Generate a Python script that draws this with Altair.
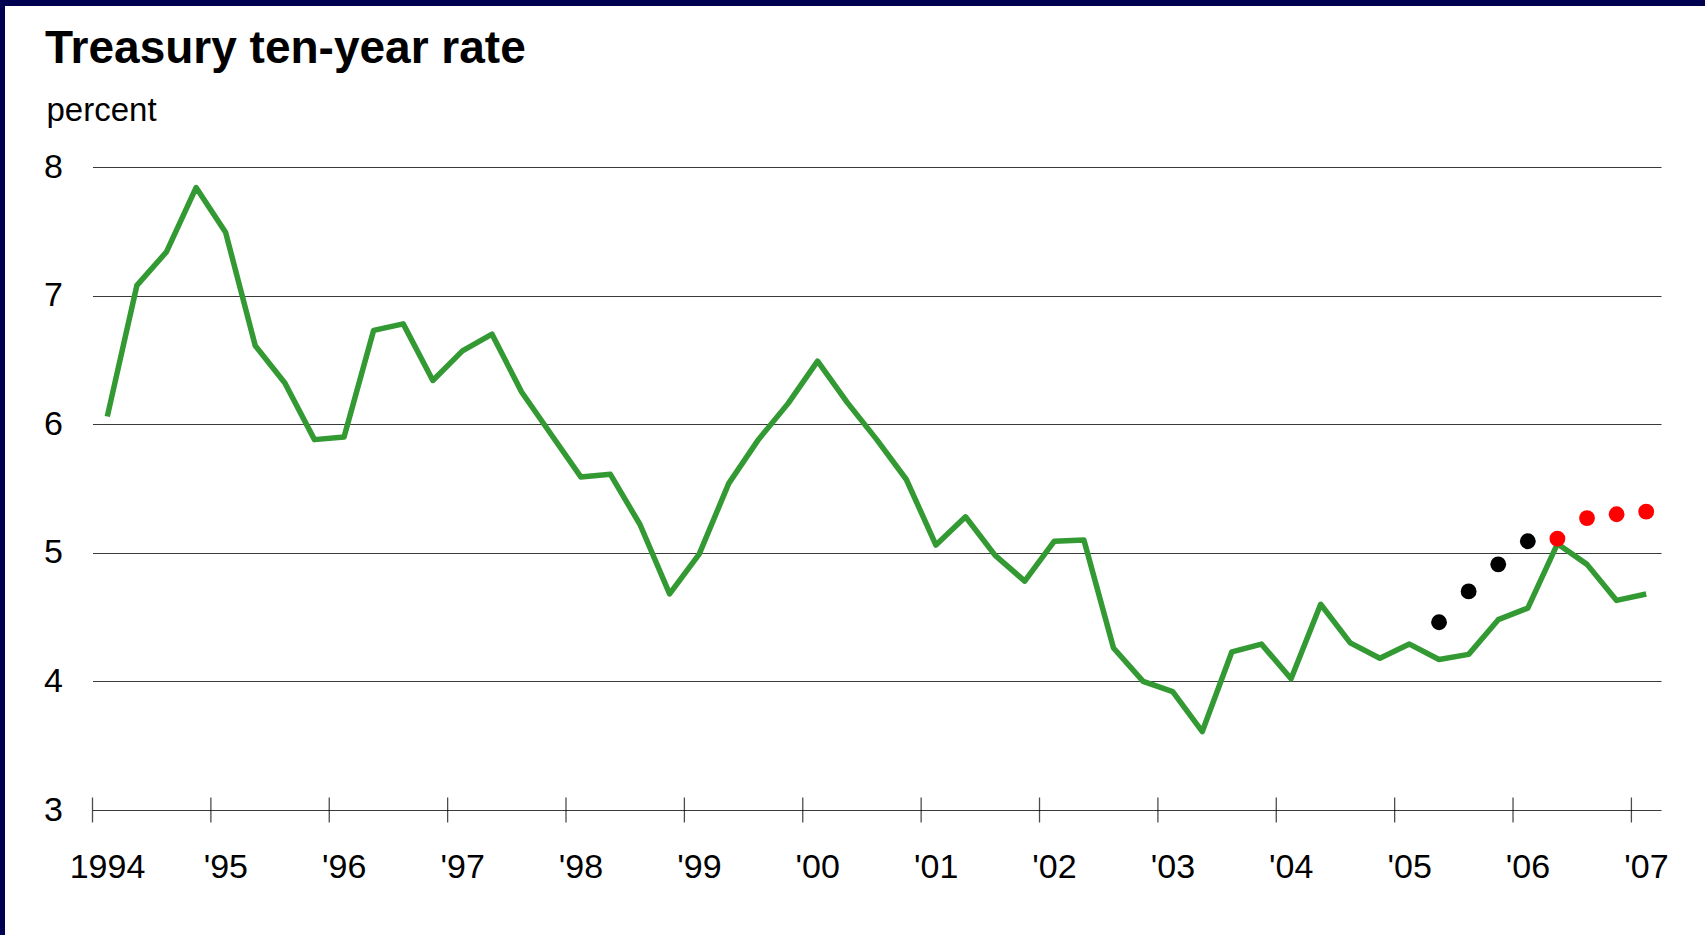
import json
import altair as alt
import pandas as pd

# ---- data (quarterly averages) ----
quarters = [
    "1994Q1", "1994Q2", "1994Q3", "1994Q4", "1995Q1", "1995Q2", "1995Q3", "1995Q4",
    "1996Q1", "1996Q2", "1996Q3", "1996Q4", "1997Q1", "1997Q2", "1997Q3", "1997Q4",
    "1998Q1", "1998Q2", "1998Q3", "1998Q4", "1999Q1", "1999Q2", "1999Q3", "1999Q4",
    "2000Q1", "2000Q2", "2000Q3", "2000Q4", "2001Q1", "2001Q2", "2001Q3", "2001Q4",
    "2002Q1", "2002Q2", "2002Q3", "2002Q4", "2003Q1", "2003Q2", "2003Q3", "2003Q4",
    "2004Q1", "2004Q2", "2004Q3", "2004Q4", "2005Q1", "2005Q2", "2005Q3", "2005Q4",
    "2006Q1", "2006Q2", "2006Q3", "2006Q4", "2007Q1",
]
rate = [
    6.06, 7.08, 7.34, 7.84, 7.49, 6.61, 6.32, 5.88,
    5.90, 6.73, 6.78, 6.34, 6.57, 6.70, 6.25, 5.92,
    5.59, 5.61, 5.22, 4.68, 4.99, 5.54, 5.88, 6.16,
    6.49, 6.17, 5.88, 5.57, 5.06, 5.28, 4.98, 4.78,
    5.09, 5.10, 4.26, 4.00, 3.92, 3.61, 4.23, 4.29,
    4.02, 4.60, 4.30, 4.18, 4.29, 4.17, 4.21, 4.48,
    4.57, 5.07, 4.91, 4.63, 4.68,
]
black_quarters = ["2005Q2", "2005Q3", "2005Q4", "2006Q1"]
black_values = [4.46, 4.70, 4.91, 5.09]
red_quarters = ["2006Q2", "2006Q3", "2006Q4", "2007Q1"]
red_values = [5.11, 5.27, 5.30, 5.32]

tick_years = [1994, 1995, 1996, 1997, 1998, 1999, 2000,
              2001, 2002, 2003, 2004, 2005, 2006, 2007]
tick_labels = ["1994", "'95", "'96", "'97", "'98", "'99", "'00",
               "'01", "'02", "'03", "'04", "'05", "'06", "'07"]
y_ticks = [3, 4, 5, 6, 7, 8]

title_text = "Treasury ten-year rate"
unit_text = "percent"


def qpos(q):
    return int(q[:4]) + (int(q[-1]) - 0.5) / 4


line_df = pd.DataFrame({"quarter": quarters, "x": [qpos(q) for q in quarters], "rate": rate})
black_df = pd.DataFrame({"quarter": black_quarters, "x": [qpos(q) for q in black_quarters], "rate": black_values})
red_df = pd.DataFrame({"quarter": red_quarters, "x": [qpos(q) for q in red_quarters], "rate": red_values})
tick_df = pd.DataFrame({"year": tick_years})

FONT = "Liberation Sans"
W, H = 1568.5, 643
PAD_L, PAD_T, PAD_R, PAD_B = 92.5, 167, 44, 125
NAVY = "#000050"

label_expr = json.dumps(tick_labels) + "[datum.value - 1994]"

x_scale = alt.Scale(domain=[1994, 2007.25], nice=False, zero=False)
y_scale = alt.Scale(domain=[3, 8], nice=False, zero=False)

x_axis = alt.Axis(values=tick_years, labelExpr=label_expr, grid=False, domain=False,
                  ticks=False, labelOffset=14.5, labelPadding=40, labelFontSize=34,
                  labelFont=FONT, labelColor="black", labelOverlap=False,
                  labelFlush=False, labelBound=False, title=None)
y_axis = alt.Axis(values=y_ticks, format="d", grid=True, gridColor="#3a3a3a", gridWidth=1.2,
                  domain=False, ticks=False, labelFontSize=34, labelFont=FONT,
                  labelColor="black", labelPadding=30, labelFlush=False,
                  title=unit_text, titleAngle=0, titleX=-46.5, titleY=-47,
                  titleAlign="left", titleBaseline="alphabetic", titleFontSize=33,
                  titleFont=FONT, titleFontWeight="normal", titleColor="black")

line = alt.Chart(line_df).mark_line(color="#339933", strokeWidth=5.5, strokeJoin="round").encode(
    x=alt.X("x:Q", scale=x_scale, axis=x_axis),
    y=alt.Y("rate:Q", scale=y_scale, axis=y_axis),
)
black_pts = alt.Chart(black_df).mark_circle(size=250, opacity=1, color="black").encode(
    x="x:Q", y="rate:Q")
red_pts = alt.Chart(red_df).mark_circle(size=250, opacity=1, color="#ff0000").encode(
    x="x:Q", y="rate:Q")
ticks = alt.Chart(tick_df).mark_tick(orient="vertical", color="black", thickness=1.3,
                                     size=25).encode(x="year:Q", y=alt.datum(3))

single = alt.Data(values=[{}])
title = alt.Chart(single).mark_text(
    text=title_text, font=FONT, fontSize=46, fontWeight="bold", color="black",
    align="left", baseline="alphabetic").encode(
    x=alt.value(-47.5), y=alt.value(-104))
top_band = alt.Chart(single).mark_rect(color=NAVY).encode(
    x=alt.value(-PAD_L), x2=alt.value(W + PAD_R), y=alt.value(-PAD_T), y2=alt.value(-PAD_T + 6))
left_band = alt.Chart(single).mark_rect(color=NAVY).encode(
    x=alt.value(-PAD_L), x2=alt.value(-PAD_L + 5), y=alt.value(-PAD_T), y2=alt.value(H + PAD_B))

chart = alt.layer(line, black_pts, red_pts, ticks, title, top_band, left_band).properties(
    width=W, height=H,
    autosize=alt.AutoSizeParams(type="none"),
    padding={"left": PAD_L, "top": PAD_T, "right": PAD_R, "bottom": PAD_B},
    background="white",
).configure_view(stroke=None)

chart.save("out.html", embed_options={"renderer": "svg", "actions": False})
